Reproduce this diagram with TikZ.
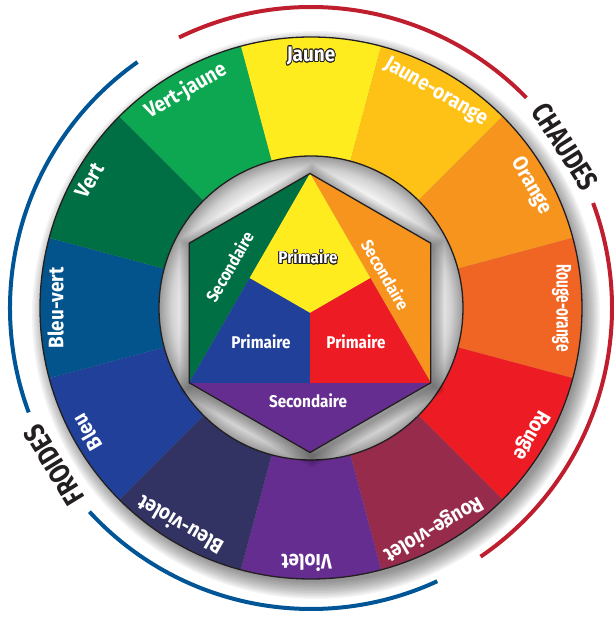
\documentclass[tikz,border=0pt]{standalone}
\usepackage{fontspec}
\usepackage{graphicx}
\usepackage{contour}
\usetikzlibrary{calc}
\newfontfamily\wfont{Fira Sans}[FakeStretch=0.9]
\contourlength{0.8pt}
\definecolor{cJ}{RGB}{255,236,30}
\definecolor{cJO}{RGB}{254,194,22}
\definecolor{cO}{RGB}{247,148,30}
\definecolor{cRO}{RGB}{241,101,36}
\definecolor{cR}{RGB}{237,28,36}
\definecolor{cRV}{RGB}{150,43,75}
\definecolor{cV}{RGB}{102,45,145}
\definecolor{cBV}{RGB}{51,51,99}
\definecolor{cB}{RGB}{33,64,154}
\definecolor{cBVe}{RGB}{3,84,140}
\definecolor{cVe}{RGB}{0,111,68}
\definecolor{cVJ}{RGB}{12,167,80}
\definecolor{arcred}{RGB}{190,30,45}
\definecolor{arcblue}{RGB}{0,85,150}
\definecolor{ink}{RGB}{35,31,32}
\pgfdeclareradialshading{ringshade}{\pgfpoint{0bp}{0bp}}{color(0bp)=(white); color(20bp)=(white); color(23bp)=(black!18); color(25bp)=(black!40); color(50bp)=(black!40)}
\tikzset{
  wl/.style={font=\wfont\bfseries\fontsize{21}{21}\selectfont, text=white, inner sep=0pt, text height=15pt, text depth=0pt},
  hl/.style={font=\wfont\bfseries\fontsize{17}{17}\selectfont, text=white, inner sep=0pt, text height=12pt, text depth=0pt},
  bigl/.style={font=\wfont\bfseries\fontsize{29}{29}\selectfont, text=ink, inner sep=0pt},
  warc/.style={line width=4pt},
  edge/.style={line width=1.3pt, draw=ink}
}
\begin{document}
\begin{tikzpicture}[x=1pt,y=1pt]
\useasboundingbox (-311,-310) rectangle (302,308);
% wheel shadow
\foreach \i in {0,...,11}
  \fill[black,opacity=0.045] (5,-7) circle ({284-\i*1.5});
% wedges
\foreach \a/\c in {90/cJ,60/cJO,30/cO,0/cRO,-30/cR,-60/cRV,-90/cV,-120/cBV,-150/cB,180/cBVe,150/cVe,120/cVJ}
  \fill[\c] (0,0) -- (\a-15:271) arc[start angle=\a-15, end angle=\a+15, radius=271] -- cycle;
\draw[edge] (0,0) circle (271);
% inner disk
\shade[shading=ringshade] (0,0) circle (152);
\draw[edge] (0,0) circle (152);
% hexagon
\coordinate (H) at (-1,-5);
\foreach \n/\ang in {T/90,UL/150,LL/210,B/270,LR/330,UR/30}
  \coordinate (\n) at ($(H)+(\ang:139.5)$);
\coordinate (ML) at ($(T)!0.5!(LL)$);
\coordinate (MR) at ($(T)!0.5!(LR)$);
\coordinate (MB) at ($(LL)!0.5!(LR)$);
\foreach \i in {1,...,10}
  \fill[black,opacity=0.045] ($(H)+(2,-3)+(90:139.5+\i*1.3)$) -- ($(H)+(2,-3)+(150:139.5+\i*1.3)$) -- ($(H)+(2,-3)+(210:139.5+\i*1.3)$) -- ($(H)+(2,-3)+(270:139.5+\i*1.3)$) -- ($(H)+(2,-3)+(330:139.5+\i*1.3)$) -- ($(H)+(2,-3)+(30:139.5+\i*1.3)$) -- cycle;
\fill[cVe] (T) -- (UL) -- (LL) -- cycle;
\fill[cO] (T) -- (UR) -- (LR) -- cycle;
\fill[cV] (LL) -- (B) -- (LR) -- cycle;
\fill[cJ] (T) -- (ML) -- (H) -- (MR) -- cycle;
\fill[cB] (LL) -- (ML) -- (H) -- (MB) -- cycle;
\fill[cR] (LR) -- (MR) -- (H) -- (MB) -- cycle;
\draw[edge, line join=miter] (T) -- (UL) -- (LL) -- (B) -- (LR) -- (UR) -- cycle;
% hexagon labels
\node[hl, rotate=60] (s1) at (-81,41) {Secondaire};
\node[hl, rotate=-60] (s2) at (74,33) {Secondaire};
\node[hl] (s3) at (-3,-93) {Secondaire};
\node[hl] (p1) at (-3,50) {\contour{ink}{Primaire}};
\node[hl] (p2) at (-50,-35) {Primaire};
\node[hl] (p3) at (45,-35) {Primaire};
% wheel labels
\node[wl, rotate=0] (w1) at (90:254) {\contour{ink}{Jaune}};
\node[wl, rotate=-30] (w2) at (60:252) {Jaune-orange};
\node[wl, rotate=-60] (w3) at (29:254) {Orange};
\node[wl, rotate=-90] (w4) at (0:253) {\scalebox{0.72}[1]{Rouge-orange}};
\node[wl, rotate=-120] (w5) at (-30:256) {Rouge};
\node[wl, rotate=-150] (w6) at (-61:254) {Rouge-violet};
\node[wl, rotate=-180] (w7) at (-91:254) {Violet};
\node[wl, rotate=-210] (w8) at (-121:253) {Bleu-violet};
\node[wl, rotate=-240] (w9) at (-151:256) {Bleu};
\node[wl, rotate=90] (w10) at (180:255) {Bleu-vert};
\node[wl, rotate=60] (w11) at (150:256) {Vert};
\node[wl, rotate=30] (w12) at (120:252) {Vert-jaune};
% temperature arcs
\draw[warc, arcred] (116:301) arc[start angle=116, end angle=44.3, radius=301];
\draw[warc, arcred] (20.4:301) arc[start angle=20.4, end angle=-55.7, radius=301];
\draw[warc, arcblue] (125.2:301) arc[start angle=125.2, end angle=200.3, radius=301];
\draw[warc, arcblue] (222.6:301) arc[start angle=222.6, end angle=294.8, radius=301];
\node[bigl, rotate=-57.6] (chaud) at (32.4:301) {\scalebox{0.88}[1]{CHAUDES}};
\node[bigl, rotate=121.5] (froid) at (211.5:301) {\scalebox{0.88}[1]{FROIDES}};
\end{tikzpicture}
\end{document}
